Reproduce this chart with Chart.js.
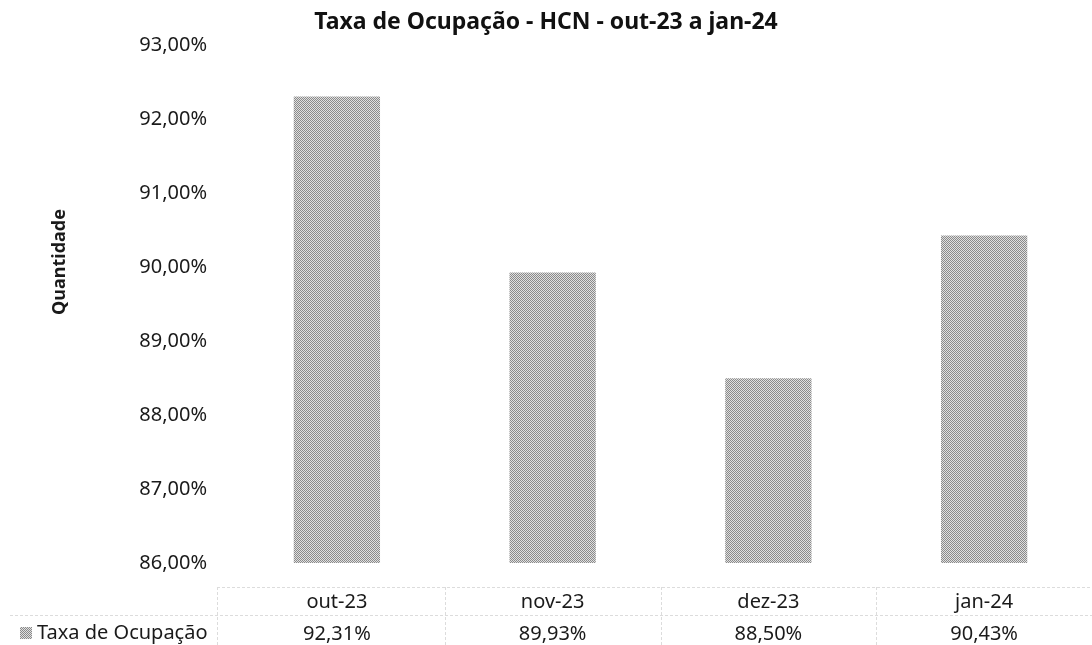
<!DOCTYPE html>
<html lang="pt-BR">
<head>
<meta charset="utf-8">
<title>Taxa de Ocupação - HCN</title>
<script src="https://cdn.jsdelivr.net/npm/chart.js@4.4.1/dist/chart.umd.min.js"></script>
<style>
  html, body { margin: 0; padding: 0; background: #fff; overflow: hidden; }
  #ocupChart { display: block; }
</style>
</head>
<body>
<canvas id="ocupChart" width="1092" height="645"></canvas>
<script>
// meses e taxa de ocupação (%) do HCN
const meses = ['out-23', 'nov-23', 'dez-23', 'jan-24'];
const ocupacao = [92.31, 89.93, 88.50, 90.43];
const serieNome = 'Taxa de Ocupação';
const eixoMin = 86;
const eixoMax = 93;
const eixoPasso = 1;

const fonte = 'Noto Sans';
const corTexto = '#1a1a1a';

function pct(v){
    return v.toFixed(2).replace('.', ',') + '%';
}

// hachura pontilhada cinza das barras (xadrez de 1px)
function hachura(ctx){
    const c = document.createElement('canvas');
    c.width = 2; c.height = 2;
    const p = c.getContext('2d');
    p.fillStyle = '#e0e0e0';
    p.fillRect(0, 0, 2, 2);
    p.fillStyle = '#8a8a8a';
    p.fillRect(0, 0, 1, 1);
    p.fillRect(1, 1, 1, 1);
    return ctx.createPattern(c, 'repeat');
}

// tabela de dados, legenda e título do eixo y
const tabelaPlugin = {
    id: 'tabela',
    afterDraw(chart){
        const ctx = chart.ctx;
        const x = chart.scales.x;
        const area = chart.chartArea;
        const yTopo = 587, yMeio = 615, yFim = chart.height;
        ctx.save();
        ctx.strokeStyle = '#dcdcdc';
        ctx.lineWidth = 1;
        ctx.setLineDash([3, 2]);
        ctx.beginPath();
        ctx.moveTo(area.left - 12, yTopo + 0.5);
        ctx.lineTo(chart.width, yTopo + 0.5);
        ctx.moveTo(10, yMeio + 0.5);
        ctx.lineTo(chart.width, yMeio + 0.5);
        for(let i = 0; i < meses.length; i++){
            const bx = i === 0 ? area.left - 12 : (x.getPixelForValue(i - 1) + x.getPixelForValue(i)) / 2;
            ctx.moveTo(Math.round(bx) + 0.5, yTopo);
            ctx.lineTo(Math.round(bx) + 0.5, yFim);
        }
        ctx.stroke();
        ctx.setLineDash([]);

        // legenda da série
        ctx.fillStyle = chart.data.datasets[0].backgroundColor;
        ctx.fillRect(20, 627, 12, 12);
        ctx.fillStyle = corTexto;
        ctx.font = '20px "' + fonte + '"';
        ctx.textAlign = 'left';
        ctx.textBaseline = 'middle';
        ctx.fillText(chart.data.datasets[0].label, 37, 633);

        // título do eixo y
        ctx.translate(60, 262);
        ctx.rotate(-Math.PI / 2);
        ctx.font = 'bold 18px "' + fonte + '"';
        ctx.textAlign = 'center';
        ctx.fillText('Quantidade', 0, 0);
        ctx.restore();
    }
};

const ctx = document.getElementById('ocupChart').getContext('2d');
const grafico = new Chart(ctx, {
    type: 'bar',
    data: {
        labels: meses,
        datasets: [{
            label: serieNome,
            data: ocupacao,
            backgroundColor: hachura(ctx),
            borderWidth: 0,
            barPercentage: 0.4,
            categoryPercentage: 1
        }]
    },
    options: {
        responsive: false,
        animation: false,
        layout: { padding: 0 },
        plugins: {
            legend: { display: false },
            tooltip: { enabled: false },
            title: {
                display: true,
                text: 'Taxa de Ocupação - HCN - out-23 a jan-24',
                color: '#111',
                font: { family: fonte, size: 23, weight: 'bold' },
                padding: { top: 9, bottom: 9 }
            }
        },
        scales: {
            x: {
                grid: { display: false, drawTicks: false },
                border: { display: false },
                ticks: {
                    color: corTexto,
                    font: { family: fonte, size: 20, lineHeight: '32px' },
                    padding: 23,
                    maxRotation: 0,
                    autoSkip: false,
                    callback: (v, i) => [meses[i], pct(ocupacao[i])]
                },
                afterFit: (s) => { s.height = 82; }
            },
            y: {
                min: eixoMin,
                max: eixoMax,
                grid: { display: false, drawTicks: false },
                border: { display: false },
                ticks: {
                    stepSize: eixoPasso,
                    color: corTexto,
                    font: { family: fonte, size: 20 },
                    padding: 22,
                    callback: (v) => pct(v)
                },
                afterFit: (s) => { s.width = 229; }
            }
        }
    },
    plugins: [tabelaPlugin]
});
</script>
</body>
</html>
